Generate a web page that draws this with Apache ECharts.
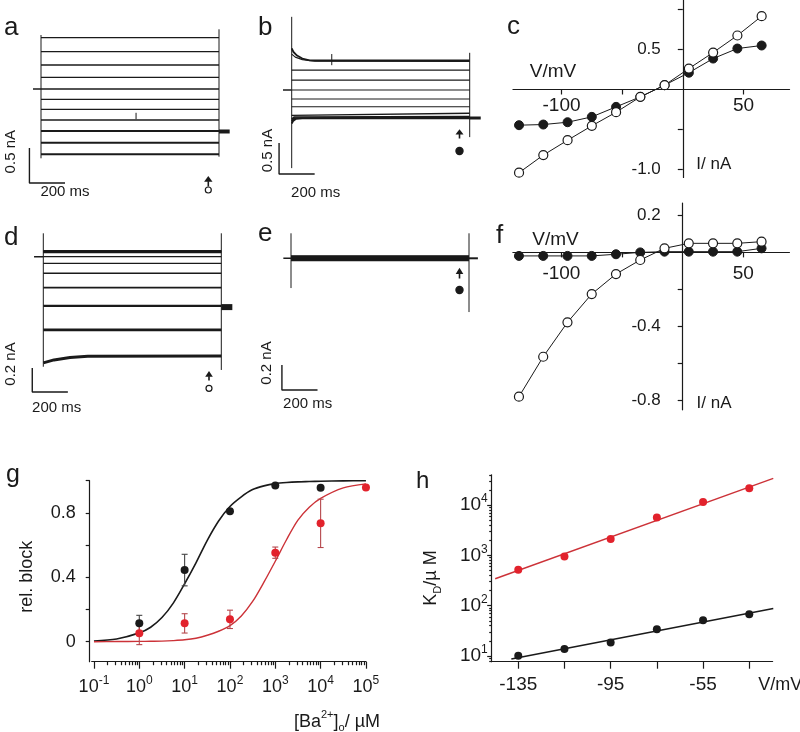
<!DOCTYPE html>
<html>
<head>
<meta charset="utf-8">
<title>Ba2+ block of Kir currents</title>
<script src="https://cdn.jsdelivr.net/npm/echarts@6/dist/echarts.min.js"></script>
<style>
  html, body { margin: 0; padding: 0; background: #fff; }
  #chart { width: 800px; height: 732px; }
</style>
</head>
<body>
<div id="chart"></div>
<script>
// ---------------- data ----------------
const PULSE_MS = 1000;
const BAR_MS = 200;

// step potentials (mV), also the x values of panels c, f
const stepVoltages = [-135, -115, -95, -75, -55, -35, -15, 5, 25, 45, 65];

// a: current traces, nA relative to holding, top to bottom
const levelsA = [0.733, 0.533, 0.343, 0.167, 0, -0.147, -0.29, -0.443, -0.6, -0.767, -0.933];
// b: traces with Ba2+, the top two and the bottom ones have an onset
const onsetB1 = [[0, 0.673], [10, 0.613], [30, 0.556], [60, 0.508], [100, 0.479], [150, 0.476], [1000, 0.476]];
const onsetB2 = [[0, 0.58], [20, 0.53], [60, 0.49], [130, 0.465], [1000, 0.46]];
const levelsB = [0.32, 0.16, 0, -0.145, -0.27];
const onsetB3 = [[0, -0.41], [10, -0.385], [1000, -0.375]];
const onsetB4 = [[0, -0.47], [15, -0.435], [1000, -0.43]];
const onsetB5 = [[0, -0.5], [15, -0.455], [1000, -0.444]];
const onsetB6 = [[0, -0.54], [8, -0.5], [25, -0.465], [60, -0.457], [1000, -0.457]];
// d: mutant, control
const levelsD = [0.05, 0.045, 0.04, 0.035, 0, -0.055, -0.138, -0.258, -0.41, -0.61];
const onsetD = [[0, -0.885], [60, -0.86], [150, -0.84], [250, -0.83], [1000, -0.827]];
// e: mutant with Ba2+
const levelsE = [0.018, 0.014, 0.01, 0.006, 0.002, 0, -0.003, -0.006, -0.01, -0.014, -0.018];

// c, f: I-V relations (nA)
const ivOpenC = [-1.04, -0.82, -0.634, -0.454, -0.284, -0.092, 0.054, 0.262, 0.462, 0.675, 0.916];
const ivFilledC = [-0.446, -0.438, -0.409, -0.342, -0.217, -0.092, 0.054, 0.21, 0.387, 0.512, 0.55];
const ivOpenF = [-0.78, -0.564, -0.378, -0.225, -0.117, -0.041, 0.022, 0.049, 0.049, 0.049, 0.058];
const ivFilledF = [-0.019, -0.019, -0.019, -0.019, -0.01, 0.0, 0.004, 0.004, 0.004, 0.004, 0.022];

// g: dose response, [Ba2+] in µM
const concUM = [1, 10, 100, 1000, 10000, 100000];
const blockWT = [0.114, 0.445, 0.81, 0.97, 0.956];
const errWT = [0.05, 0.098, 0, 0, 0];
const blockMut = [0.052, 0.114, 0.139, 0.553, 0.735, 0.957];
const errMut = [0.07, 0.06, 0.057, 0.035, 0.15, 0];
const fitConc = [0.1, 0.316, 1, 1.78, 3.16, 5.62, 10, 17.8, 31.6, 56.2, 100, 178, 316, 562, 1000, 1780, 3160, 5620, 10000, 31600, 100000];
const fitWT = [0.005, 0.017, 0.055, 0.09, 0.15, 0.24, 0.36, 0.49, 0.63, 0.75, 0.84, 0.9, 0.945, 0.968, 0.982, 0.989, 0.993, 0.995, 0.997, 0.999, 1.0];
const fitMut = [0, 0.001, 0.002, 0.003, 0.004, 0.007, 0.012, 0.022, 0.04, 0.065, 0.1, 0.16, 0.25, 0.37, 0.5, 0.635, 0.755, 0.835, 0.89, 0.955, 0.98];
const gTickExp = [-1, 0, 1, 2, 3, 4, 5];
const gYTicks = [0, 0.2, 0.4, 0.6, 0.8, 1.0];
const gYLabels = [0, 0.4, 0.8];

// h: KD vs voltage
const vH = [-135, -115, -95, -75, -55, -35];
const kdMut = [517, 946, 2120, 5660, 11560, 21600];
const kdWT = [10.1, 13.7, 18.6, 34.2, 51.4, 67.6];
const vFitMut = [-145, -24.6];
const kdFitMut = [343, 33900];
const vFitWT = [-138, -24.6];
const kdFitWT = [8.7, 87.7];
const hXLabels = [-135, -95, -55];
const hYExp = [1, 2, 3, 4];

// ---------------- layout / style ----------------
const INK = '#1a1a1a';
const RED = '#e2222c';
const RED_LINE = '#cc3238';
const FONT = '"Liberation Sans", Arial, Helvetica, sans-serif';
const PX_PER_MS = 0.178;

const option = { animation: false, backgroundColor: '#fff', grid: [], xAxis: [], yAxis: [], series: [], graphic: [] };

function addAxes(grid, xAx, yAx) {
  grid.outerBoundsMode = 'none';
  const gi = option.grid.push(grid) - 1;
  xAx.gridIndex = gi;
  yAx.gridIndex = gi;
  return { gi, xi: option.xAxis.push(xAx) - 1, yi: option.yAxis.push(yAx) - 1 };
}

function line(ax, data, width, color, extra) {
  option.series.push(Object.assign({
    type: 'line', xAxisIndex: ax.xi, yAxisIndex: ax.yi, data: data,
    symbol: 'none', silent: true, z: 2,
    lineStyle: { color: color || INK, width: width }
  }, extra || {}));
}

const flat = lv => [[0, lv], [PULSE_MS, lv]];

function tracePanel(p) {
  const [x1, y1, x2, y2] = p.box;
  const ax = addAxes(
    { left: x1, top: y1, width: x2 - x1, height: y2 - y1 },
    { type: 'value', show: false, min: (x1 - p.t0) / PX_PER_MS, max: (x2 - p.t0) / PX_PER_MS },
    { type: 'value', show: false, min: (p.y0 - y2) / p.pxPerNa, max: (p.y0 - y1) / p.pxPerNa }
  );
  p.traces.forEach((tr, i) => line(ax, tr, p.widths[i]));
  // capacitive transients at step on / off
  line(ax, [[0, p.capOn[0]], [0, p.capOn[1]]], 1);
  line(ax, [[PULSE_MS, p.capOff[0]], [PULSE_MS, p.capOff[1]]], 1);
  // holding level before the step
  line(ax, [[p.holdFrom, 0], [0, 0]], 1.4);
  // tail after the step
  line(ax, [[PULSE_MS, p.tail], [PULSE_MS + p.tailMs, p.tail]], p.tailWidth);
  if (p.artefact) line(ax, p.artefact, 1);
  // scale bar
  const [sx, sy] = p.bar;
  line(ax, [[sx, sy + p.barNa], [sx, sy], [sx + BAR_MS, sy]], 1.4);
}

tracePanel({
  box: [0, 15, 258, 200], t0: 41, y0: 89, pxPerNa: 70,
  traces: levelsA.map(flat),
  widths: [1.3, 1.3, 1.3, 1.3, 1.3, 1.3, 1.3, 1.5, 1.8, 2, 2.1],
  capOn: [-0.99, 0.771], capOff: [-0.967, 0.853],
  holdFrom: -45, tail: -0.607, tailMs: 60, tailWidth: 4,
  artefact: [[534, -0.34], [534, -0.43]],
  bar: [-65, -1.343], barNa: 0.5
});
tracePanel({
  box: [258, 5, 500, 200], t0: 291.7, y0: 90, pxPerNa: 62,
  traces: [onsetB1, onsetB2].concat(levelsB.map(flat), [onsetB3, onsetB4, onsetB5, onsetB6]),
  widths: [1.8, 1.1, 1.2, 1.2, 1.2, 1.2, 1.2, 1.3, 1.6, 1.8, 1.8],
  capOn: [-1.26, 1.18], capOff: [-0.76, 0.6],
  holdFrom: -49, tail: -0.45, tailMs: 62, tailWidth: 3,
  artefact: [[225, 0.58], [225, 0.40]],
  bar: [-71, -1.355], barNa: 0.5
});
tracePanel({
  box: [0, 215, 258, 420], t0: 43.3, y0: 256.7, pxPerNa: 120,
  traces: levelsD.map(flat).concat([onsetD]),
  widths: [1.5, 1.5, 1.5, 1.5, 1.3, 1.2, 1.3, 1.6, 2.2, 2.6, 3],
  capOn: [-0.917, 0.195], capOff: [-0.944, 0.195],
  holdFrom: -52, tail: -0.42, tailMs: 62, tailWidth: 6,
  bar: [-62, -1.1275], barNa: 0.2
});
tracePanel({
  box: [258, 215, 500, 420], t0: 291, y0: 258.3, pxPerNa: 125,
  traces: levelsE.map(flat),
  widths: levelsE.map(() => 1.5),
  capOn: [-0.238, 0.2], capOff: [-0.43, 0.2],
  holdFrom: -43, tail: 0, tailMs: 50, tailWidth: 2,
  bar: [-51, -1.054], barNa: 0.2
});

// ---- I-V panels: axes cross at (0 mV, 0 nA), placed with offsets ----
function ivPanel(p) {
  const left = p.x0 + p.xMin * p.pxPerMv;
  const top = p.y0 - p.yMax * p.pxPerNa;
  const axLine = { onZero: false, lineStyle: { color: INK, width: 1.2 } };
  const ax = addAxes(
    { left: left, top: top, width: (p.xMax - p.xMin) * p.pxPerMv, height: (p.yMax - p.yMin) * p.pxPerNa },
    {
      type: 'value', position: 'bottom', min: p.xMin, max: p.xMax, splitLine: { show: false },
      offset: p.yMin * p.pxPerNa,
      axisLine: axLine,
      axisTick: { customValues: p.xTicks, length: 5, lineStyle: { color: INK, width: 1.2 } },
      axisLabel: { customValues: p.xLabels, margin: p.xMargin, color: INK, fontSize: 19, fontFamily: FONT }
    },
    {
      type: 'value', position: 'left', min: p.yMin, max: p.yMax, splitLine: { show: false },
      offset: p.xMin * p.pxPerMv,
      axisLine: axLine,
      axisTick: { customValues: p.yTicks, length: 5, lineStyle: { color: INK, width: 1.2 } },
      axisLabel: { customValues: p.yLabels, margin: 22, color: INK, fontSize: 17, fontFamily: FONT,
        formatter: v => v.toFixed(1) }
    }
  );
  const pts = arr => stepVoltages.map((v, i) => [v, arr[i]]);
  line(ax, pts(p.filled), 1, INK, { symbol: 'circle', symbolSize: 9, showSymbol: true,
    itemStyle: { color: INK, borderColor: INK, borderWidth: 1, opacity: 1 }, z: 3 });
  line(ax, pts(p.open), 1, INK, { symbol: 'circle', symbolSize: 9, showSymbol: true,
    itemStyle: { color: '#fff', borderColor: INK, borderWidth: 1.2, opacity: 1 }, z: 4 });
}
ivPanel({ x0: 682.8, pxPerMv: 1.213, xMin: -140, xMax: 88, y0: 89.5, pxPerNa: 80, yMin: -1.1, yMax: 1.115,
  xTicks: [-100, -50, 50], xLabels: [-100, 50], xMargin: 7,
  yTicks: [1.0, 0.5, -0.5, -1.0], yLabels: [0.5, -1.0],
  open: ivOpenC, filled: ivFilledC });
ivPanel({ x0: 682.7, pxPerMv: 1.213, xMin: -140, xMax: 88, y0: 252.4, pxPerNa: 185, yMin: -0.851, yMax: 0.267,
  xTicks: [-100, -50, 50], xLabels: [-100, 50], xMargin: 12,
  yTicks: [0.2, -0.2, -0.4, -0.6, -0.8], yLabels: [0.2, -0.4, -0.8],
  open: ivOpenF, filled: ivFilledF });

// ---- minor tick positions for log10 axes ----
function minorLogTicks(lo, hi) {
  const out = [];
  for (let n = Math.floor(lo); n <= Math.ceil(hi); n++) {
    for (let k = 2; k <= 9; k++) {
      const v = n + Math.log10(k);
      if (v >= lo && v <= hi) out.push(v);
    }
  }
  return out;
}
const supRich = size => ({
  b: { fontSize: size, fontFamily: FONT, color: INK, lineHeight: 24 },
  s: { fontSize: 12, fontFamily: FONT, color: INK, lineHeight: 12, verticalAlign: 'top' }
});
const expLabel = v => '{b|10}{s|' + Math.round(v) + '}';

// ---- g: dose response ----
const axStyle = { color: INK, width: 1.2 };
const gX = { min: -1.05, max: 5 };
const gAx = addAxes(
  { left: 91.7, top: 480.7, width: 6.05 * 45.33, height: 181 },
  {
    type: 'value', min: gX.min, max: gX.max, splitLine: { show: false },
    axisLine: { onZero: false, lineStyle: axStyle },
    axisTick: { customValues: gTickExp, length: 7, lineStyle: axStyle },
    axisLabel: { customValues: gTickExp, margin: 13, formatter: expLabel, rich: supRich(18) }
  },
  {
    type: 'value', min: -0.124, max: 1.0, offset: 2, splitLine: { show: false },
    axisLine: { onZero: false, lineStyle: axStyle },
    axisTick: { customValues: gYTicks, length: 4, lineStyle: axStyle },
    axisLabel: { customValues: gYLabels, margin: 14, color: INK, fontSize: 18, fontFamily: FONT }
  }
);
option.xAxis.push({
  gridIndex: gAx.gi, type: 'value', position: 'bottom', min: gX.min, max: gX.max,
  splitLine: { show: false }, axisLine: { show: false, onZero: false },
  axisTick: { customValues: minorLogTicks(-1, 5), length: 3.5, lineStyle: axStyle },
  axisLabel: { show: false }
});

function errorBars(ax, pts, color) {
  option.series.push({
    type: 'custom', xAxisIndex: ax.xi, yAxisIndex: ax.yi, silent: true, z: 3,
    data: pts.filter(p => p[2] > 0),
    renderItem: function (params, api) {
      const x = api.value(0), y = api.value(1), e = api.value(2);
      const hi = api.coord([x, y + e]);
      const lo = api.coord([x, y - e]);
      const st = { stroke: color, lineWidth: 1.1 };
      return { type: 'group', children: [
        { type: 'line', shape: { x1: hi[0], y1: hi[1], x2: lo[0], y2: lo[1] }, style: st },
        { type: 'line', shape: { x1: hi[0] - 3, y1: hi[1], x2: hi[0] + 3, y2: hi[1] }, style: st },
        { type: 'line', shape: { x1: lo[0] - 3, y1: lo[1], x2: lo[0] + 3, y2: lo[1] }, style: st }
      ] };
    }
  });
}
const lg = c => Math.log10(c);
const dot = (ax, data, color, z) => option.series.push({ type: 'scatter', xAxisIndex: ax.xi, yAxisIndex: ax.yi,
  silent: true, z: z, symbolSize: 8, itemStyle: { color: color, opacity: 1 }, data: data });

line(gAx, fitConc.map((c, i) => [lg(c), fitWT[i]]), 1.6, INK, { smooth: 0.3 });
line(gAx, fitConc.map((c, i) => [lg(c), fitMut[i]]), 1.4, RED_LINE, { smooth: 0.3 });
errorBars(gAx, blockWT.map((b, i) => [lg(concUM[i]), b, errWT[i]]), '#444');
errorBars(gAx, blockMut.map((b, i) => [lg(concUM[i]), b, errMut[i]]), '#b5474c');
dot(gAx, blockWT.map((b, i) => [lg(concUM[i]), b]), INK, 4);
dot(gAx, blockMut.map((b, i) => [lg(concUM[i]), b]), RED, 5);

// ---- h: KD vs V ----
const hY = { min: Math.log10(7.7), max: Math.log10(40001) };
const hAx = addAxes(
  { left: 491.7, top: 656 - (hY.max - 1) * 50.3, width: 121.6 * 2.31, height: (hY.max - hY.min) * 50.3 },
  {
    type: 'value', min: -146.5, max: -24.9, splitLine: { show: false },
    axisLine: { onZero: false, lineStyle: axStyle },
    axisTick: { customValues: vH, length: 7, lineStyle: axStyle },
    axisLabel: { customValues: hXLabels, margin: 14, color: INK, fontSize: 19, fontFamily: FONT }
  },
  {
    type: 'value', min: hY.min, max: hY.max, splitLine: { show: false },
    axisLine: { onZero: false, lineStyle: axStyle },
    axisTick: { customValues: hYExp, length: 4.5, lineStyle: axStyle },
    axisLabel: { customValues: hYExp, margin: 4, formatter: expLabel, rich: supRich(19) }
  }
);
option.yAxis.push({
  gridIndex: hAx.gi, type: 'value', position: 'left', min: hY.min, max: hY.max,
  splitLine: { show: false }, axisLine: { show: false, onZero: false },
  axisTick: { customValues: minorLogTicks(hY.min, hY.max), length: 2.5, lineStyle: axStyle },
  axisLabel: { show: false }
});
line(hAx, vFitMut.map((v, i) => [v, lg(kdFitMut[i])]), 1.4, RED_LINE);
line(hAx, vFitWT.map((v, i) => [v, lg(kdFitWT[i])]), 1.5, INK);
dot(hAx, vH.map((v, i) => [v, lg(kdMut[i])]), RED, 4);
dot(hAx, vH.map((v, i) => [v, lg(kdWT[i])]), INK, 4);

// ---------------- text and annotations ----------------
function txt(text, x, y, size, opts) {
  opts = opts || {};
  option.graphic.push({
    type: 'text', x: x, y: y, rotation: opts.rot || 0, silent: true, z: 10,
    style: Object.assign({ text: text, fill: INK, fontSize: size, fontFamily: FONT,
      align: opts.align || 'center', verticalAlign: 'middle' }, opts.rich ? { rich: opts.rich } : {})
  });
}
// panel letters
[['a', 4, 27.7], ['b', 258, 28], ['c', 507, 26.7], ['d', 4, 237.7], ['e', 258, 234], ['f', 496, 236]]
  .forEach(l => txt(l[0], l[1], l[2], 26, { align: 'left' }));
txt('g', 6, 474.7, 25, { align: 'left' });
txt('h', 416, 481.7, 24, { align: 'left' });
// scale bar labels
txt('0.5 nA', 10.8, 151.7, 15, { rot: Math.PI / 2 });
txt('0.5 nA', 267.5, 150.5, 15, { rot: Math.PI / 2 });
txt('0.2 nA', 10.8, 364, 15, { rot: Math.PI / 2 });
txt('0.2 nA', 267, 363, 15, { rot: Math.PI / 2 });
txt('200 ms', 65, 191.7, 15);
txt('200 ms', 315.7, 193.3, 15);
txt('200 ms', 56.7, 408.3, 15);
txt('200 ms', 307.7, 404, 15);
// axis names
txt('V/mV', 553, 71.7, 19);
txt('I/ nA', 713.8, 164, 17);
txt('V/mV', 555.5, 239.5, 19);
txt('I/ nA', 714, 403, 17);
txt('rel. block', 26.7, 576.7, 18, { rot: Math.PI / 2 });
txt('{n|[Ba}{p|2+}{n|]}{o|o}{n|/ µM}', 380, 721.7, 18, { align: 'right', rich: {
  n: { fontSize: 18, fontFamily: FONT, color: INK, lineHeight: 24 },
  p: { fontSize: 11, fontFamily: FONT, color: INK, lineHeight: 12, verticalAlign: 'top' },
  o: { fontSize: 11, fontFamily: FONT, color: INK, lineHeight: 12, verticalAlign: 'bottom' }
} });
txt('{n|K}{o|D}{n|/µ M}', 431, 578, 18, { rot: Math.PI / 2, rich: {
  n: { fontSize: 18, fontFamily: FONT, color: INK, lineHeight: 24 },
  o: { fontSize: 11, fontFamily: FONT, color: INK, lineHeight: 12, verticalAlign: 'bottom' }
} });
txt('V/mV', 758.3, 685, 18, { align: 'left' });

// measurement arrows with the symbol used in the I-V plot
function arrow(x, tip, base, stemEnd, halfW, markY, filled) {
  option.graphic.push(
    { type: 'polygon', silent: true, z: 10, shape: { points: [[x - halfW, base], [x + halfW, base], [x, tip]] }, style: { fill: INK } },
    { type: 'line', silent: true, z: 10, shape: { x1: x, y1: base - 0.5, x2: x, y2: stemEnd }, style: { stroke: INK, lineWidth: 1.6 } },
    { type: 'circle', silent: true, z: 10, shape: { cx: x, cy: markY, r: filled ? 3.6 : 3 },
      style: { fill: filled ? INK : '#fff', stroke: INK, lineWidth: 1.2 } }
  );
}
arrow(208.3, 176, 181.7, 186.5, 4.2, 190, false);
arrow(459.5, 129.3, 134.5, 138.5, 4, 151, true);
arrow(209, 371, 376.7, 380.5, 3.8, 388.3, false);
arrow(459.5, 267.7, 274, 278.5, 3.8, 290, true);

const chart = echarts.init(document.getElementById('chart'), null, { renderer: 'canvas' });
chart.setOption(option);
</script>
</body>
</html>
